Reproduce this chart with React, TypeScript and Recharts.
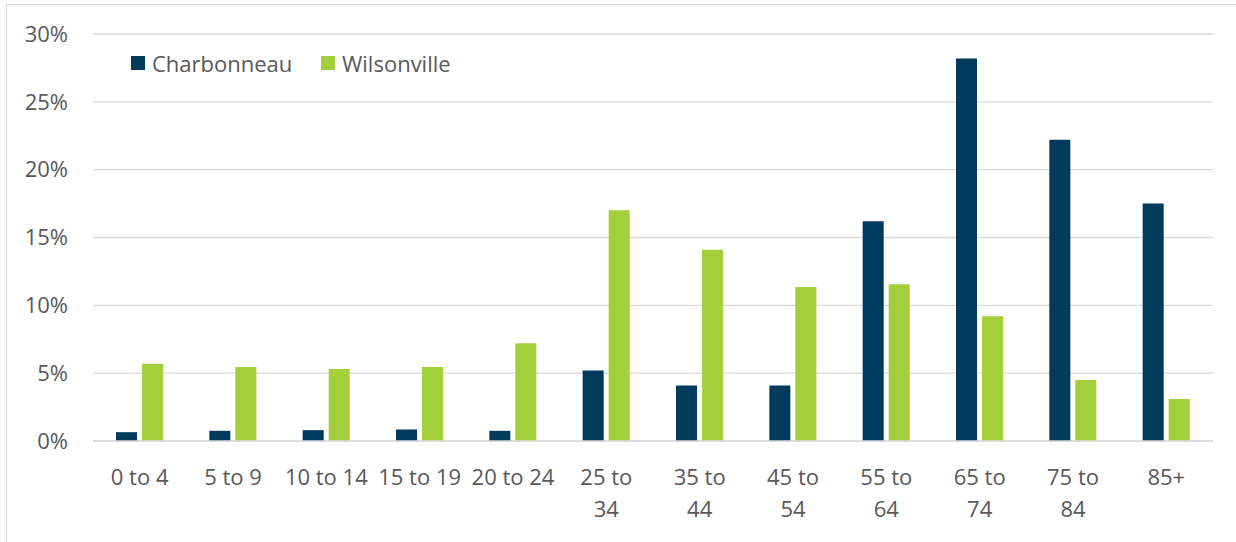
import React from "react";
import { Bar, BarChart, CartesianGrid, XAxis, YAxis } from "recharts";

const AGE_GROUPS = [
  "0 to 4",
  "5 to 9",
  "10 to 14",
  "15 to 19",
  "20 to 24",
  "25 to 34",
  "35 to 44",
  "45 to 54",
  "55 to 64",
  "65 to 74",
  "75 to 84",
  "85+",
];

// labels that Excel wrapped onto two lines
const WRAPPED_LABELS = ["25 to 34", "35 to 44", "45 to 54", "55 to 64", "65 to 74", "75 to 84"];

const CHARBONNEAU = [0.65, 0.75, 0.8, 0.85, 0.75, 5.2, 4.1, 4.1, 16.2, 28.2, 22.2, 17.5];
const WILSONVILLE = [5.7, 5.45, 5.3, 5.45, 7.2, 17.0, 14.1, 11.35, 11.55, 9.2, 4.5, 3.1];

const Y_TICKS = [0, 5, 10, 15, 20, 25, 30];

const COLORS = {
  charbonneau: "#003a5d",
  wilsonville: "#a2cf3a",
};

const TEXT = "#595959";
const GRID = "#d9d9d9";
const FONT = "'Open Sans', sans-serif";

const data = AGE_GROUPS.map((age, i) => ({
  age,
  charbonneau: CHARBONNEAU[i],
  wilsonville: WILSONVILLE[i],
}));

function AgeTick({ x, y, payload }: { x?: number; y?: number; payload?: { value: string } }) {
  const label = payload?.value ?? "";
  let lines = [label];
  if (WRAPPED_LABELS.includes(label)) {
    const cut = label.lastIndexOf(" ");
    lines = [label.slice(0, cut), label.slice(cut + 1)];
  }
  return (
    <text x={x} y={(y ?? 0) + 44} textAnchor="middle" fill={TEXT} fontSize={22} fontFamily={FONT}>
      {lines.map((line, i) => (
        <tspan key={i} x={x} dy={i === 0 ? 0 : 32}>
          {line}
        </tspan>
      ))}
    </text>
  );
}

// legend sits over the plot, so draw it outside recharts' layout
function ChartLegend() {
  const items = [
    { name: "Charbonneau", color: COLORS.charbonneau },
    { name: "Wilsonville", color: COLORS.wilsonville },
  ];
  return (
    <div
      style={{
        position: "absolute",
        left: 124,
        top: 43,
        display: "flex",
        fontFamily: FONT,
        fontSize: 22,
        color: TEXT,
      }}
    >
      {items.map((item) => (
        <div key={item.name} style={{ display: "flex", alignItems: "center", width: 190 }}>
          <span style={{ width: 14, height: 14, background: item.color, marginRight: 7 }} />
          <span style={{ lineHeight: "30px" }}>{item.name}</span>
        </div>
      ))}
    </div>
  );
}

export default function App() {
  return (
    <div
      style={{
        position: "absolute",
        left: 6,
        top: 4,
        width: 1229,
        height: 537,
        borderLeft: `1px solid ${GRID}`,
        borderTop: `1px solid ${GRID}`,
        background: "#fff",
      }}
    >
      <BarChart
        width={1229}
        height={537}
        data={data}
        margin={{ top: 29, right: 23, left: 0, bottom: 0 }}
        barSize={21}
        barGap={5}
      >
        <CartesianGrid vertical={false} stroke={GRID} strokeWidth={1.3} />
        <XAxis
          dataKey="age"
          height={101}
          axisLine={{ stroke: GRID, strokeWidth: 1.5 }}
          tickLine={false}
          tickSize={0}
          tickMargin={0}
          interval={0}
          tick={<AgeTick />}
        />
        <YAxis
          width={86}
          domain={[0, 30]}
          ticks={Y_TICKS}
          tickFormatter={(v: number) => `${v}%`}
          axisLine={false}
          tickLine={false}
          tickSize={0}
          tickMargin={25}
          tick={{ fill: TEXT, fontSize: 22, fontFamily: FONT }}
        />
        <Bar dataKey="charbonneau" name="Charbonneau" fill={COLORS.charbonneau} isAnimationActive={false} />
        <Bar dataKey="wilsonville" name="Wilsonville" fill={COLORS.wilsonville} isAnimationActive={false} />
      </BarChart>
      <ChartLegend />
    </div>
  );
}
